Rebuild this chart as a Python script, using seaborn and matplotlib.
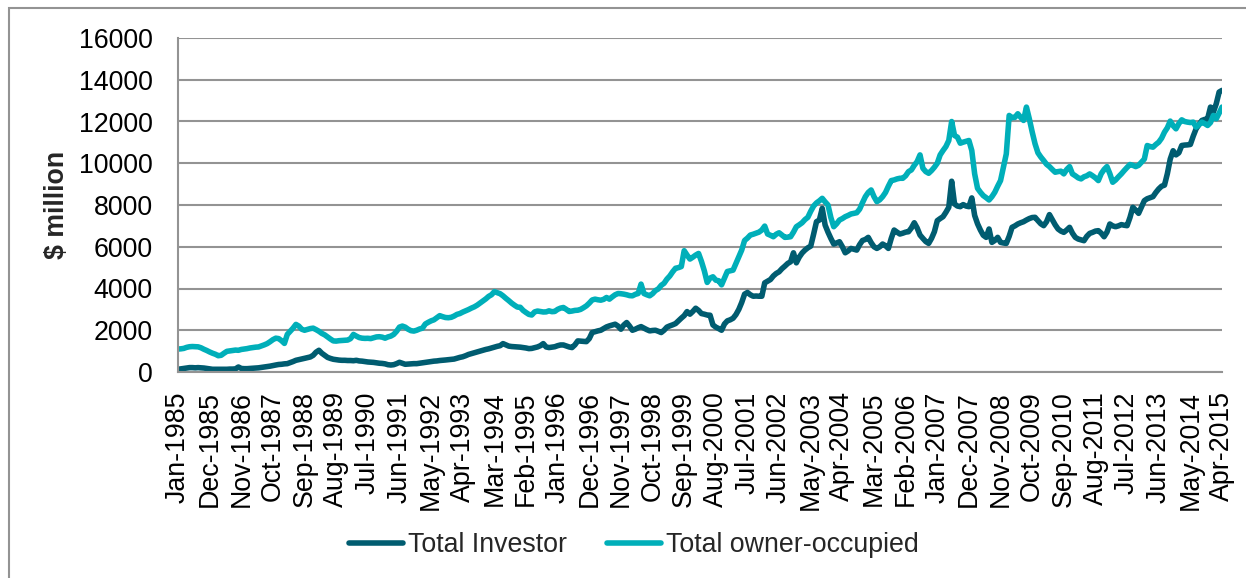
import matplotlib
matplotlib.use("Agg")
import matplotlib.pyplot as plt
import seaborn as sns
import pandas as pd
from matplotlib.patches import Rectangle

# monthly values, $ million, Jan-1985 .. Apr-2015
investor = [
    130, 150, 170, 190, 210, 210, 200, 210, 200, 190, 170, 150,  # 1985
    130, 130, 130, 130, 130, 130, 140, 140, 150, 240, 170, 160,  # 1986
    160, 170, 180, 190, 200, 220, 240, 255, 280, 310, 335, 360,  # 1987
    370, 390, 400, 450, 500, 560, 590, 620, 655, 690, 720, 800,  # 1988
    950, 1040, 900, 800, 700, 650, 610, 590, 570, 560, 560, 550,  # 1989
    550, 540, 560, 530, 520, 500, 480, 470, 460, 440, 420, 410,  # 1990
    390, 350, 335, 350, 400, 465, 420, 370, 380, 395, 400, 400,  # 1991
    420, 440, 465, 480, 500, 520, 530, 550, 560, 575, 590, 600,  # 1992
    620, 660, 700, 730, 780, 840, 880, 920, 960, 1000, 1040, 1080,  # 1993
    1110, 1150, 1190, 1230, 1260, 1360, 1300, 1240, 1220, 1210, 1200, 1190,  # 1994
    1170, 1150, 1120, 1130, 1165, 1200, 1260, 1360, 1200, 1170, 1190, 1210,  # 1995
    1260, 1295, 1295, 1250, 1200, 1170, 1300, 1490, 1480, 1470, 1455, 1600,  # 1996
    1890, 1930, 1970, 2000, 2080, 2160, 2210, 2250, 2290, 2200, 2050, 2250,  # 1997
    2370, 2200, 2000, 2050, 2120, 2175, 2100, 2030, 1970, 1990, 2000, 1950,  # 1998
    1890, 2000, 2150, 2210, 2260, 2320, 2450, 2580, 2700, 2895, 2770, 2900,  # 1999
    3055, 2950, 2800, 2770, 2730, 2720, 2255, 2150, 2080, 2000, 2300, 2450,  # 2000
    2500, 2575, 2750, 3000, 3330, 3730, 3810, 3700, 3630, 3640, 3630, 3630,  # 2001
    4270, 4350, 4430, 4600, 4720, 4800, 4950, 5070, 5200, 5280, 5710, 5230,  # 2002
    5500, 5700, 5840, 5950, 6030, 6600, 7200, 7280, 7840, 7040, 6700, 6400,  # 2003
    6130, 6180, 6240, 6000, 5710, 5800, 5920, 5880, 5840, 6100, 6300, 6350,  # 2004
    6450, 6200, 6000, 5920, 6000, 6130, 6050, 5920, 6400, 6800, 6700, 6610,  # 2005
    6650, 6700, 6720, 6900, 7150, 6900, 6560, 6400, 6250, 6160, 6400, 6720,  # 2006
    7250, 7350, 7440, 7650, 7890, 9140, 8050, 7950, 7920, 8020, 7950, 7920,  # 2007
    8340, 7500, 7100, 6800, 6550, 6450, 6850, 6210, 6300, 6450, 6210, 6180,  # 2008
    6160, 6500, 6930, 7000, 7090, 7150, 7200, 7280, 7350, 7400, 7410, 7250,  # 2009
    7100, 7010, 7200, 7540, 7300, 7050, 6850, 6750, 6690, 6800, 6930, 6650,  # 2010
    6450, 6370, 6330, 6290, 6500, 6640, 6690, 6750, 6770, 6650, 6480, 6700,  # 2011
    7090, 7000, 6960, 7000, 7060, 7030, 7010, 7400, 7890, 7750, 7600, 7900,  # 2012
    8210, 8300, 8350, 8400, 8600, 8770, 8900, 8950, 9500, 10200, 10600, 10400,  # 2013
    10500, 10850, 10870, 10880, 10900, 11300, 11650, 11850, 12050, 12100, 12130, 12690,  # 2014
    12450, 12850, 13410, 13490,  # 2015
]

owner_occupied = [
    1100, 1110, 1130, 1180, 1210, 1220, 1215, 1205, 1160, 1090, 1030, 960,  # 1985
    900, 850, 780, 800, 900, 990, 1010, 1030, 1050, 1040, 1080, 1100,  # 1986
    1120, 1150, 1170, 1190, 1200, 1250, 1300, 1360, 1450, 1550, 1620, 1600,  # 1987
    1500, 1370, 1800, 1950, 2100, 2280, 2200, 2050, 2000, 2040, 2080, 2100,  # 1988
    2030, 1950, 1850, 1780, 1680, 1580, 1490, 1480, 1500, 1510, 1520, 1530,  # 1989
    1600, 1800, 1720, 1650, 1620, 1610, 1615, 1600, 1640, 1680, 1690, 1670,  # 1990
    1620, 1680, 1720, 1800, 1950, 2150, 2200, 2150, 2050, 1980, 1960, 2000,  # 1991
    2060, 2100, 2300, 2380, 2450, 2500, 2600, 2700, 2650, 2610, 2600, 2620,  # 1992
    2680, 2760, 2800, 2870, 2930, 2990, 3060, 3120, 3200, 3300, 3400, 3500,  # 1993
    3620, 3700, 3850, 3800, 3750, 3650, 3530, 3420, 3300, 3200, 3110, 3100,  # 1994
    2950, 2850, 2760, 2730, 2880, 2920, 2900, 2875, 2880, 2930, 2890, 2900,  # 1995
    3000, 3060, 3090, 3000, 2900, 2920, 2950, 2960, 3000, 3080, 3170, 3300,  # 1996
    3450, 3490, 3460, 3440, 3480, 3570, 3490, 3600, 3700, 3760, 3750, 3730,  # 1997
    3700, 3660, 3650, 3720, 3760, 4210, 3760, 3700, 3650, 3750, 3900, 3980,  # 1998
    4150, 4250, 4450, 4600, 4800, 4970, 5000, 5050, 5810, 5600, 5410, 5500,  # 1999
    5600, 5680, 5300, 4850, 4290, 4500, 4560, 4400, 4370, 4175, 4500, 4815,  # 2000
    4850, 4880, 5200, 5520, 5840, 6300, 6415, 6560, 6600, 6650, 6700, 6800,  # 2001
    6990, 6610, 6550, 6480, 6600, 6670, 6560, 6450, 6460, 6480, 6700, 6960,  # 2002
    7050, 7150, 7300, 7410, 7700, 7950, 8100, 8200, 8320, 8150, 8000, 7400,  # 2003
    6960, 7100, 7280, 7350, 7440, 7500, 7570, 7600, 7630, 7800, 8110, 8400,  # 2004
    8600, 8720, 8400, 8160, 8250, 8400, 8600, 8900, 9170, 9200, 9250, 9280,  # 2005
    9280, 9400, 9600, 9680, 9900, 10080, 10400, 9760, 9600, 9520, 9650, 9810,  # 2006
    10000, 10400, 10610, 10800, 11090, 12000, 11330, 11250, 10960, 11010, 11050, 11090,  # 2007
    10610, 9490, 8800, 8610, 8450, 8350, 8240, 8400, 8610, 8900, 9170, 9800,  # 2008
    10450, 12290, 12180, 12200, 12370, 12200, 12050, 12690, 12130, 11500, 10930, 10500,  # 2009
    10300, 10130, 9950, 9840, 9700, 9570, 9600, 9620, 9490, 9700, 9840, 9490,  # 2010
    9400, 9300, 9250, 9350, 9400, 9490, 9400, 9300, 9170, 9500, 9700, 9840,  # 2011
    9500, 9090, 9200, 9350, 9490, 9650, 9800, 9940, 9900, 9840, 9900, 10050,  # 2012
    10200, 10850, 10800, 10770, 10900, 11010, 11200, 11490, 11700, 12020, 11800, 11650,  # 2013
    11900, 12080, 12000, 11970, 11950, 11970, 11730, 11850, 11970, 11900, 11810, 11950,  # 2014
    12290, 12130, 12400, 12690,  # 2015
]

series_names = ["Total Investor", "Total owner-occupied"]

# every 11th month is labelled on the category axis
tick_labels = [
    "Jan-1985", "Dec-1985", "Nov-1986", "Oct-1987", "Sep-1988", "Aug-1989",
    "Jul-1990", "Jun-1991", "May-1992", "Apr-1993", "Mar-1994", "Feb-1995",
    "Jan-1996", "Dec-1996", "Nov-1997", "Oct-1998", "Sep-1999", "Aug-2000",
    "Jul-2001", "Jun-2002", "May-2003", "Apr-2004", "Mar-2005", "Feb-2006",
    "Jan-2007", "Dec-2007", "Nov-2008", "Oct-2009", "Sep-2010", "Aug-2011",
    "Jul-2012", "Jun-2013", "May-2014", "Apr-2015",
]
tick_step = 11

sns.set_style("white")
plt.rcParams['font.family'] = ['Liberation Sans', 'DejaVu Sans']

n = len(investor)
df = pd.DataFrame({
    "month": list(range(n)) * 2,
    "value": investor + owner_occupied,
    "series": [series_names[0]] * n + [series_names[1]] * n,
})

grey = "#939393"
colors = ["#005c70", "#00afb9"]
fs = 19.3

fig = plt.figure(figsize=(12.46, 5.78), dpi=100)
ax = fig.add_axes([178 / 1246, 1 - 372 / 578, (1222 - 178) / 1246, (372 - 38) / 578])

sns.lineplot(data=df, x="month", y="value", hue="series", hue_order=series_names,
             palette=colors, linewidth=4.0, ax=ax)

ax.set_xlim(0, n - 1)
ax.set_ylim(0, 16000)
ax.set_yticks(range(0, 16001, 2000))
ax.set_xticks(range(0, n, tick_step))
ax.set_xticklabels(tick_labels, rotation=90)
ax.tick_params(axis="both", labelsize=fs, colors=grey, labelcolor="black",
               direction="out", length=6, width=1.5)
ax.tick_params(axis="y", pad=12)
ax.tick_params(axis="x", pad=8)
ax.yaxis.grid(True, color=grey, linewidth=1.5)
ax.set_axisbelow(True)

for side in ["top", "right"]:
    ax.spines[side].set_visible(False)
for side in ["left", "bottom"]:
    ax.spines[side].set_color(grey)
    ax.spines[side].set_linewidth(1.5)

ax.set_xlabel("")
ax.set_ylabel("$ million", fontsize=fs, fontweight="bold")
ax.yaxis.set_label_coords(-0.103, 0.5)

handles, labels = ax.get_legend_handles_labels()
ax.legend(handles, labels, loc="center", bbox_to_anchor=(634 / 1246, 1 - 545 / 578),
          bbox_transform=fig.transFigure, ncol=2, frameon=False, fontsize=fs,
          handlelength=2.0, handletextpad=0.2, columnspacing=1.5)

# chart-area border (only the left and top edges are inside the picture)
fig.patches.append(Rectangle((9 / 1246, -0.1), 1.2, 1.1 - 8 / 578,
                             transform=fig.transFigure, fill=False,
                             edgecolor=grey, linewidth=1.5))

fig.savefig("out.png", dpi=100)
